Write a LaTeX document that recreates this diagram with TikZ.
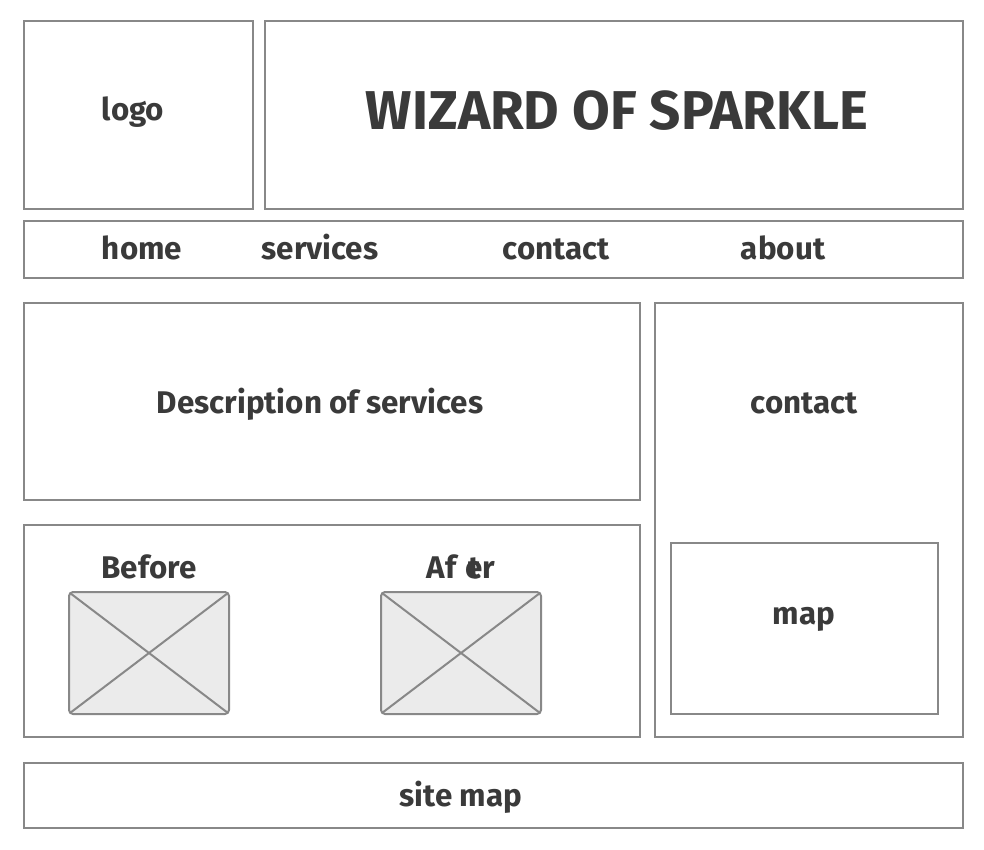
\documentclass[tikz,border=0pt]{standalone}
\usepackage{fontspec}
\setmainfont{Fira Sans}
\definecolor{edge}{HTML}{888888}
\definecolor{ink}{HTML}{3A3A3A}
\definecolor{imgfill}{HTML}{EBEBEB}
\begin{document}
\begin{tikzpicture}[x=0.75pt,y=-0.75pt,
  panel/.style={draw=edge,line width=1.5pt,fill=white},
  imgbox/.style={draw=edge,line width=1.5pt,fill=imgfill,rounded corners=3pt},
  cross/.style={draw=edge,line width=1.5pt},
  lbl/.style={text=ink,font=\bfseries\fontsize{23.5}{28}\selectfont,inner sep=0pt,anchor=base},
  ttl/.style={text=ink,font=\bfseries\fontsize{41}{48}\selectfont,inner sep=0pt,anchor=base}]
\useasboundingbox[fill=white] (0,0) rectangle (984,849);
\draw[panel] (24,21) rectangle (253,209);
\draw[panel] (265,21) rectangle (963,209);
\draw[panel] (24,221) rectangle (963,278);
\draw[panel] (24,303) rectangle (640,500);
\draw[panel] (24,525) rectangle (640,737);
\draw[panel] (655,303) rectangle (963,737);
\draw[panel] (671,543) rectangle (938,714);
\draw[panel] (24,763) rectangle (963,828);
\draw[imgbox] (69,592) rectangle (229,714);
\draw[cross] (70,593) -- (228,713) (70,713) -- (228,593);
\draw[imgbox] (381,592) rectangle (541,714);
\draw[cross] (382,593) -- (540,713) (382,713) -- (540,593);
\node[lbl] (logo) at (133,120) {logo};
\node[ttl] (title) at (617,129) {WIZARD OF SPARKLE};
\node[lbl] (home) at (142,259) {home};
\node[lbl] (services) at (320,259) {services};
\node[lbl] (contactnav) at (556,259) {contact};
\node[lbl] (about) at (783,259) {about};
\node[lbl] (desc) at (320,413) {Description of services};
\node[lbl] (contact) at (804,413) {contact};
\node[lbl] (before) at (149,578) {Before};
\node[lbl] (after) at (461,578) {Af\hspace{0.3em}\makebox[0pt][l]{\hspace{0.08em}t}er};
\node[lbl] (map) at (804,624) {map};
\node[lbl] (sitemap) at (461,806) {site map};
\end{tikzpicture}
\end{document}
